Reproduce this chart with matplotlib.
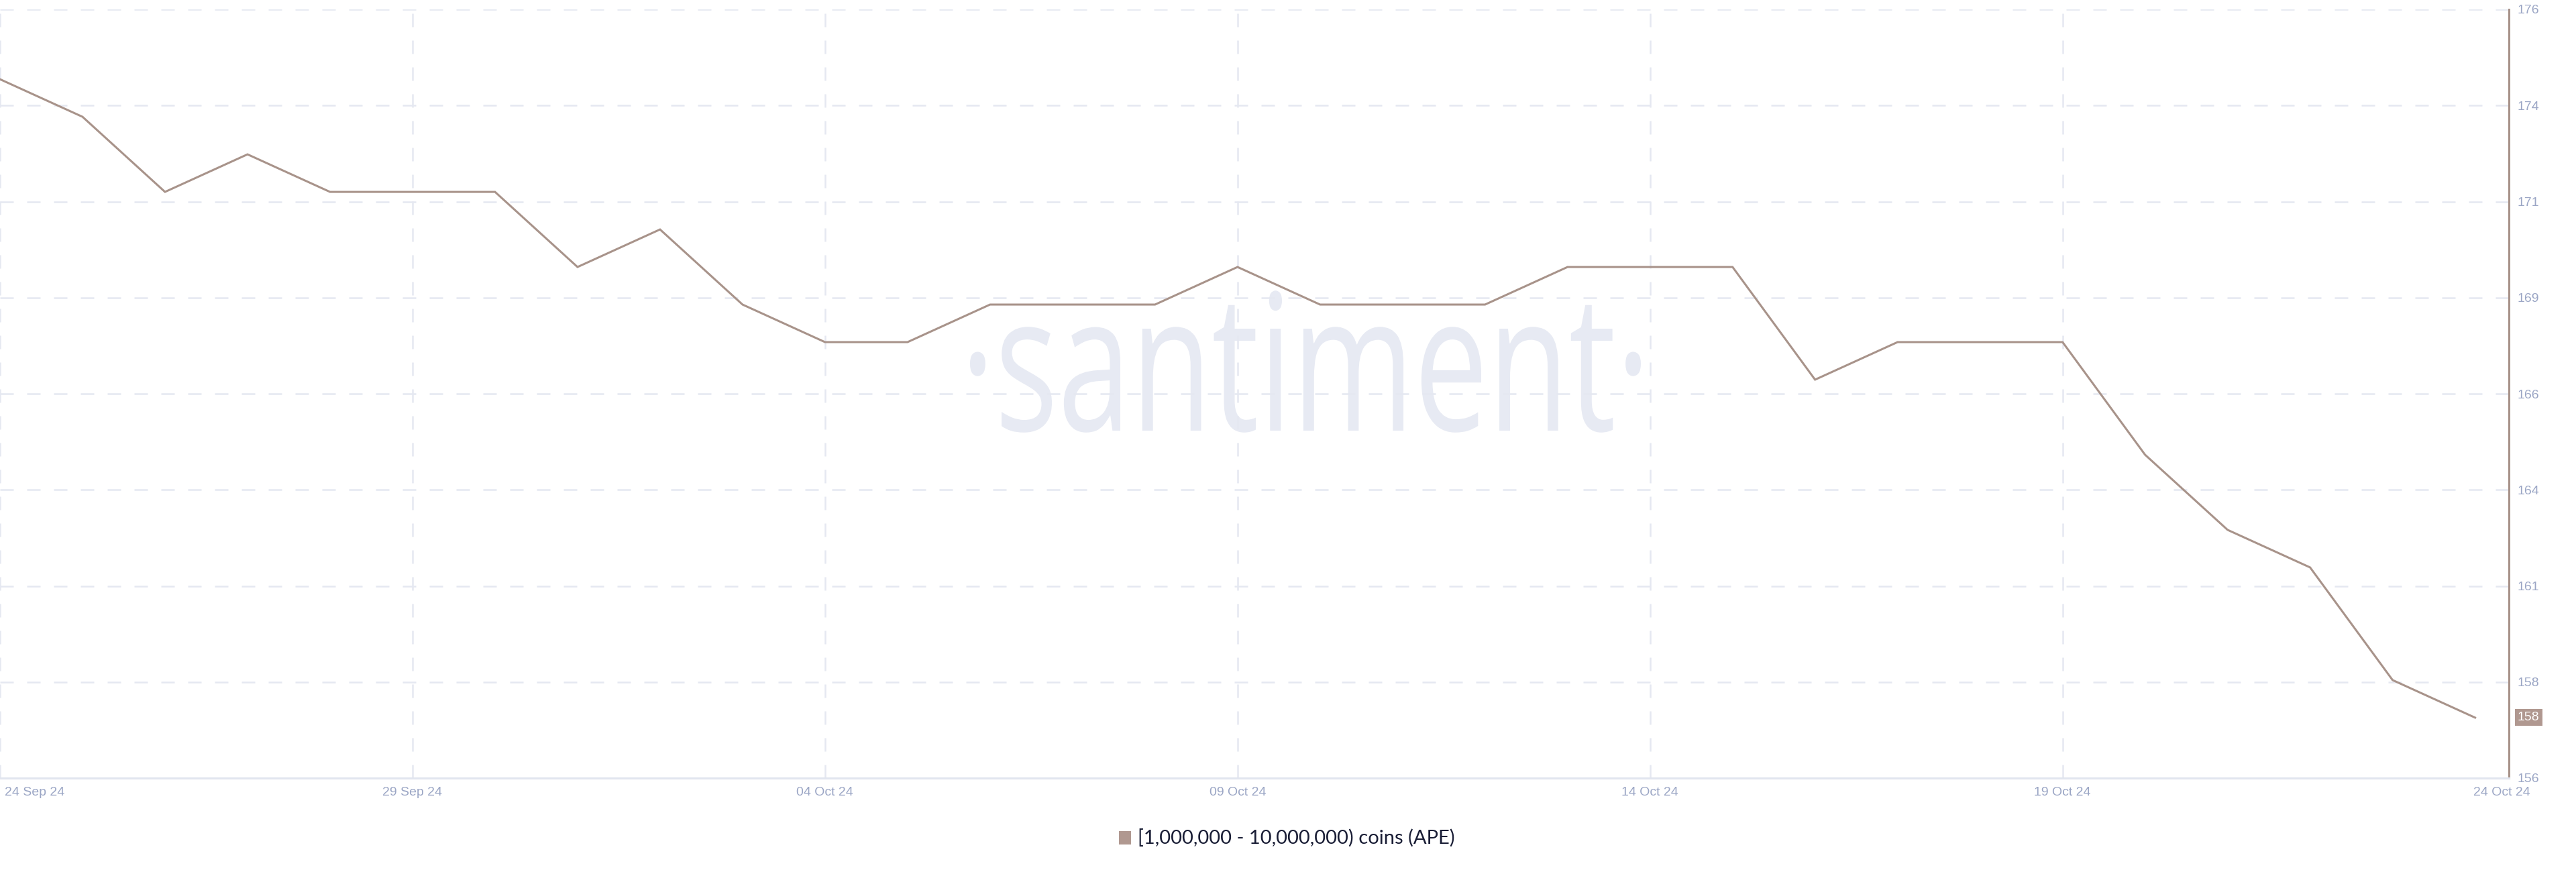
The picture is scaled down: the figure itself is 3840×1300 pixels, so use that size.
import numpy as np
import pandas as pd
import matplotlib
matplotlib.use("Agg")
import matplotlib.pyplot as plt
import matplotlib.dates as mdates
from matplotlib.textpath import TextPath
from matplotlib.patches import PathPatch, Rectangle
from matplotlib.font_manager import FontProperties
from matplotlib.transforms import Affine2D, ScaledTranslation

# holders with [1M - 10M) APE, daily
dates = pd.date_range("2024-09-24", "2024-10-24", freq="D")
holders = [175, 174, 172, 173, 172, 172, 172, 170, 171, 169,
           168, 168, 169, 169, 169, 170, 169, 169, 169, 170,
           170, 170, 167, 168, 168, 168, 165, 163, 162, 159, 158]

date_ticks = pd.to_datetime(["2024-09-24", "2024-09-29", "2024-10-04", "2024-10-09",
                             "2024-10-14", "2024-10-19", "2024-10-24"])
date_labels = ["24 Sep 24", "29 Sep 24", "04 Oct 24", "09 Oct 24",
               "14 Oct 24", "19 Oct 24", "24 Oct 24"]
y_labels = ["156", "158", "161", "164", "166", "169", "171", "174", "176"]
legend_label = "[1,000,000 - 10,000,000) coins (APE)"

line_col = "#a8938a"
tick_col = "#9ba6c5"
grid_col = "#e5e8f1"

W, H = 3840, 1300
fig = plt.figure(figsize=(W / 100, H / 100), dpi=100)
ax = fig.add_axes([0, 140 / H, 3740 / W, (1160 - 14) / H])

ymin, ymax = 156.39, 176.86
ax.set_ylim(ymin, ymax)
ax.set_xlim(mdates.date2num(dates[0]), mdates.date2num(dates[-1]) + 0.41)

# watermark
fp = FontProperties(family="Open Sans")
wm = TextPath((0, 0), "\u00b7santiment\u00b7", size=100, prop=fp)
xh = TextPath((0, 0), "x", size=100, prop=fp).get_extents().height
ext = wm.get_extents()
sx = 1000 / ext.width
sy = 152 / xh
tr = (Affine2D().translate(-ext.x0, 0).scale(sx / W, sy / H)
      .translate(1446 / W, (H - 642) / H) + fig.transFigure)
ax.add_patch(PathPatch(wm, transform=tr, facecolor="#e7eaf3", edgecolor="none",
                       zorder=0.1, clip_on=False))

ax.plot(dates, holders, color=line_col, lw=2.2, zorder=3, solid_joinstyle="miter")

# axes styling
for s in ["top", "left"]:
    ax.spines[s].set_visible(False)
ax.spines["right"].set_color(line_col)
ax.spines["right"].set_linewidth(2.2)
ax.spines["bottom"].set_color("#e1e5ef")
ax.spines["bottom"].set_linewidth(2.2)

ax.yaxis.tick_right()
ax.set_yticks(np.linspace(ymin, ymax, 9))
ax.set_yticklabels(y_labels)
ax.set_xticks(date_ticks)
ax.set_xticklabels(date_labels)
ax.tick_params(length=0, colors=tick_col, labelsize=14)
ax.tick_params(axis="y", pad=9)
ax.tick_params(axis="x", pad=9)
for lab in ax.get_xticklabels() + ax.get_yticklabels():
    lab.set_fontfamily("Liberation Sans")

xl = ax.get_xticklabels()
xl[0].set_ha("left")
xl[0].set_transform(xl[0].get_transform() + ScaledTranslation(0.07, 0, fig.dpi_scale_trans))
xl[-1].set_transform(xl[-1].get_transform() + ScaledTranslation(0.40, 0, fig.dpi_scale_trans))

ax.grid(axis="y", color=grid_col, lw=1.8, dashes=(8, 8))
for d in date_ticks[:-1]:
    ax.axvline(d, color=grid_col, lw=1.8, dashes=(8, 8), zorder=0.5)
ax.set_axisbelow(True)

# last value tag
ax.annotate(str(holders[-1]), xy=(1, holders[-1]), xycoords=("axes fraction", "data"),
            xytext=(13, 0), textcoords="offset pixels", ha="left", va="center",
            fontsize=14, color="white", family="Liberation Sans",
            bbox=dict(boxstyle="square,pad=0.2", fc="#b09890", ec="none"))

# legend
fig.patches.append(Rectangle((1668 / W, 1-(1249 + 10) / H), 18 / W, 20 / H,
                             transform=fig.transFigure, fc="#b09890", ec="none"))
fig.text(1696 / W, 1 - 1249 / H, legend_label, ha="left", va="center",
         fontsize=21, color="#191d35", family="Lato")

fig.savefig("out.png", dpi=100)
